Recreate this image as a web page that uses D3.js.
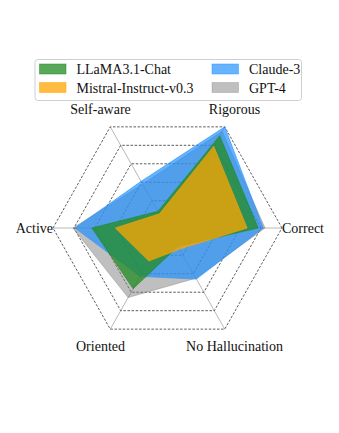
<!DOCTYPE html>
<html><head><meta charset="utf-8">
<script src="https://cdn.jsdelivr.net/npm/d3@7"></script>
<style>
html,body{margin:0;padding:0;background:#fff;}
svg{display:block;}
text{font-family:"Liberation Serif","Times New Roman",serif;fill:#111;}
</style></head>
<body>
<svg id="chart" width="339" height="433"></svg>
<script>
const axesLabels = ["Correct", "Rigorous", "Self-aware", "Active", "Oriented", "No Hallucination"];
const levels = [0, 1, 2, 3, 4, 5];
const seriesNames = ["GPT-4", "Claude-3", "LLaMA3.1-Chat", "Mistral-Instruct-v0.3"];
const gpt4    = [4.19, 4.76, 1.90, 4.05, 3.29, 2.24];
const claude  = [4.10, 5.00, 2.05, 3.95, 2.14, 2.29];
const llama   = [3.86, 4.52, 0.43, 3.14, 2.81, 0.52];
const mistral = [3.33, 3.95, 0.29, 2.02, 1.31, 0.67];
const legendOrder = ["LLaMA3.1-Chat", "Mistral-Instruct-v0.3", "Claude-3", "GPT-4"];
const colors = {"GPT-4": "#808080", "Claude-3": "#1e90ff", "LLaMA3.1-Chat": "#228b22", "Mistral-Instruct-v0.3": "#ffa500"};
const alphas = {"GPT-4": 0.5, "Claude-3": 0.68, "LLaMA3.1-Chat": 0.75, "Mistral-Instruct-v0.3": 0.75};
const seriesValues = {"GPT-4": gpt4, "Claude-3": claude, "LLaMA3.1-Chat": llama, "Mistral-Instruct-v0.3": mistral};

const svg = d3.select("#chart");
const cx = 167.5, cy = 228, ky = 1.02;
const r = d3.scaleLinear().domain([0, 5]).range([10, 114.5]);
const ang = d3.scaleLinear().domain([0, axesLabels.length]).range([0, 2 * Math.PI]);
const pt = (i, rad) => [cx + rad * Math.cos(ang(i)), cy - ky * rad * Math.sin(ang(i))];

const g = svg.append("g");
// spokes
axesLabels.forEach((a, i) => {
  const p = pt(i, r(5));
  g.append("line").attr("x1", cx).attr("y1", cy).attr("x2", p[0]).attr("y2", p[1])
    .attr("stroke", "#b8b8b8").attr("stroke-width", 1);
});
// rings
const ringLine = d3.line();
levels.forEach(l => {
  const pts = axesLabels.map((a, i) => pt(i, r(l)));
  g.append("path").attr("d", ringLine(pts) + "Z").attr("fill", "none")
    .attr("stroke", "#333").attr("stroke-width", 0.8).attr("stroke-dasharray", "2.5,1.6");
});
// series polygons
seriesNames.forEach(s => {
  const pts = seriesValues[s].map((v, i) => pt(i, r(v)));
  g.append("path").attr("d", ringLine(pts) + "Z")
    .attr("fill", colors[s]).attr("fill-opacity", alphas[s])
    .attr("stroke", colors[s]).attr("stroke-opacity", alphas[s] * 0.8).attr("stroke-width", 1);
});
// axis labels
axesLabels.forEach((a, i) => {
  const c = Math.cos(ang(i));
  let p, anchor;
  if (Math.abs(c) > 0.99) {
    p = pt(i, r(5));
    anchor = c > 0 ? "start" : "end";
  } else {
    p = pt(i, r(5) + 19.5);
    anchor = "middle";
  }
  svg.append("text").attr("x", p[0]).attr("y", p[1]).attr("dy", "0.33em")
    .attr("text-anchor", anchor).attr("font-size", 14).text(a);
});
// legend
const lg = svg.append("g");
lg.append("rect").attr("x", 35).attr("y", 59.5).attr("width", 266.5).attr("height", 41)
  .attr("rx", 3).attr("fill", "#fff").attr("stroke", "#cfcfcf").attr("stroke-width", 1);
legendOrder.forEach((s, k) => {
  const col = Math.floor(k / 2), row = k % 2;
  const x0 = 39.5 + col * 172.5, y0 = 64 + row * 18.5;
  lg.append("rect").attr("x", x0).attr("y", y0).attr("width", 26.5).attr("height", 10)
    .attr("fill", colors[s]).attr("fill-opacity", alphas[s])
    .attr("stroke", colors[s]).attr("stroke-opacity", alphas[s] * 0.8).attr("stroke-width", 0.8);
  lg.append("text").attr("x", x0 + 37).attr("y", y0 + 10).attr("font-size", 14).text(s);
});
</script>
</body></html>
